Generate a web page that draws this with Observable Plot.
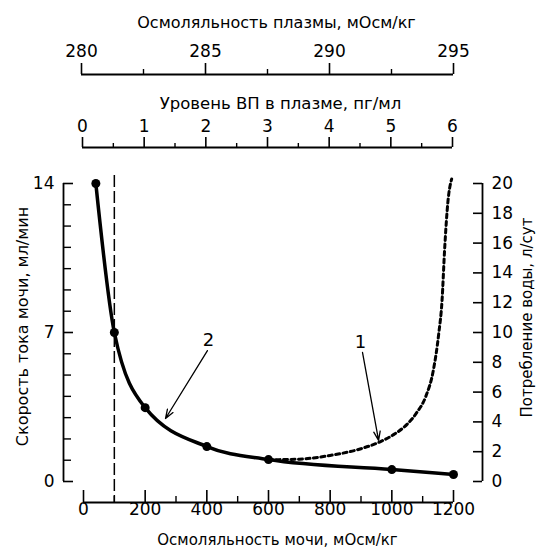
<!DOCTYPE html>
<html><head><meta charset="utf-8">
<script src="https://cdn.jsdelivr.net/npm/d3@7"></script>
<script src="https://cdn.jsdelivr.net/npm/@observablehq/plot@0.6"></script>
<style>body{margin:0;background:#fff} #chart svg{display:block}</style>
</head><body><div id="chart"></div>
<script>
// ---- data ----
const urineOsm = [40, 100, 200, 400, 600, 1000, 1200];
const urineFlow = [14, 7, 3.47, 1.64, 1.03, 0.56, 0.33];
const intakeOsm = [600, 700, 800, 900, 960, 1010, 1050, 1080, 1110, 1135, 1152, 1163, 1171, 1182, 1194];
const intakeVol = [1.46, 1.5, 1.75, 2.2, 2.65, 3.2, 3.85, 4.6, 5.7, 7.5, 9.9, 12.2, 15.5, 18.8, 20.3];
const thresholdOsm = [100];
const plasmaTicks = [280, 285, 290, 295];
const plasmaMinor = [282.5, 287.5, 292.5];
const adhTicks = [0, 1, 2, 3, 4, 5, 6];
const adhMinor = [0.5, 1.5, 2.5, 3.5, 4.5, 5.5];
const urineTicks = [0, 200, 400, 600, 800, 1000, 1200];
const urineMinor = [100, 300, 500, 700, 900, 1100];
const flowTicks = [0, 7, 14];
const flowMinor = [1, 2, 3, 4, 5, 6, 8, 9, 10, 11, 12, 13];
const waterTicks = [0, 2, 4, 6, 8, 10, 12, 14, 16, 18, 20];
const curveNames = ["1", "2"];
const nameOsm = [898, 405];
const nameFlow = [6.55, 6.62];
const arrowFromOsm = [905, 402];
const arrowFromFlow = [6.06, 6.15];
const arrowToOsm = [957, 266];
const arrowToFlow = [1.93, 2.96];
const titlePlasma = "Осмоляльность плазмы, мОсм/кг";
const titleAdh = "Уровень ВП в плазме, пг/мл";
const titleUrine = "Осмоляльность мочи, мОсм/кг";
const titleFlow = "Скорость тока мочи, мл/мин";
const titleWater = "Потребление воды, л/сут";

const flowMax = 14, waterMax = 20;
const waterToFlow = flowMax / waterMax;

const FONT = "DejaVu Sans";
const style = {fontFamily: FONT, fontSize: "16px", color: "black", background: "white", overflow: "visible"};
const W = 537;
const str = d => String(d);
const T = {lineAnchor: "middle"};

// ---- top axis: plasma osmolality ----
const plotA = Plot.plot({
  width: W, height: 88, marginTop: 63, marginBottom: 14, marginLeft: 81, marginRight: 84,
  style,
  x: {domain: [280, 295], axis: null},
  y: {domain: [0, 1], axis: null},
  marks: [
    Plot.ruleY([0], {strokeWidth: 1.8}),
    Plot.tickX(plasmaTicks, {x: d => d, strokeWidth: 1.6}),
    Plot.tickX(plasmaMinor, {x: d => d, insetTop: 6, strokeWidth: 1.4}),
    Plot.text(plasmaTicks, {...T, x: d => d, text: str, frameAnchor: "top", dy: -12, fontSize: 17}),
    Plot.text([titlePlasma], {...T, textAnchor: "middle", frameAnchor: "top", dx: 9, dy: -41, fontSize: 16})
  ]
});

// ---- top axis: ADH ----
const plotB = Plot.plot({
  width: W, height: 72, marginTop: 49, marginBottom: 13, marginLeft: 82, marginRight: 85,
  style,
  x: {domain: [0, 6], axis: null},
  y: {domain: [0, 1], axis: null},
  marks: [
    Plot.ruleY([0], {strokeWidth: 1.8}),
    Plot.tickX(adhTicks, {x: d => d, strokeWidth: 1.6}),
    Plot.tickX(adhMinor, {x: d => d, insetTop: 6, strokeWidth: 1.4}),
    Plot.text(adhTicks, {...T, x: d => d, text: str, frameAnchor: "top", dy: -11, fontSize: 17}),
    Plot.text([titleAdh], {...T, textAnchor: "middle", frameAnchor: "top", dx: 13, dy: -34, fontSize: 16.5})
  ]
});

// ---- main chart ----
const plotC = Plot.plot({
  width: W, height: 389, marginTop: 23, marginBottom: 68, marginLeft: 83, marginRight: 84,
  style,
  x: {domain: [0, 1200], axis: null},
  y: {domain: [0, flowMax], axis: null},
  marks: [
    // left axis
    Plot.ruleX([0], {dx: -20, strokeWidth: 1.8}),
    Plot.tickY(flowTicks, {y: d => d, insetLeft: -20, insetRight: 380, strokeWidth: 1.6}),
    Plot.tickY(flowMinor, {y: d => d, insetLeft: -20, insetRight: 382, strokeWidth: 1.4}),
    Plot.text(flowTicks, {...T, y: d => d, text: str, frameAnchor: "left", dx: -29, textAnchor: "end", fontSize: 17}),
    Plot.text([titleFlow], {...T, textAnchor: "middle", frameAnchor: "left", rotate: -90, dx: -61, dy: -6, fontSize: 16}),
    // right axis
    Plot.ruleX([1200], {dx: 29, strokeWidth: 1.8}),
    Plot.tickY(waterTicks, {y: d => d * waterToFlow, insetLeft: 390, insetRight: -29, strokeWidth: 1.6}),
    Plot.text(waterTicks, {...T, y: d => d * waterToFlow, text: str, frameAnchor: "right", dx: 38, textAnchor: "start", fontSize: 17}),
    Plot.text([titleWater], {...T, textAnchor: "middle", frameAnchor: "right", rotate: -90, dx: 74, dy: -15, fontSize: 15}),
    // bottom axis
    Plot.ruleY([0], {dy: 21, strokeWidth: 1.8}),
    Plot.tickX(urineTicks, {x: d => d, insetTop: 307, insetBottom: -21, strokeWidth: 1.6}),
    Plot.tickX(urineMinor, {x: d => d, insetTop: 313, insetBottom: -21, strokeWidth: 1.4}),
    Plot.text(urineTicks, {...T, x: d => d, text: str, frameAnchor: "bottom", dy: 28, fontSize: 17}),
    Plot.text([titleUrine], {...T, textAnchor: "middle", frameAnchor: "bottom", dx: 9, dy: 59, fontSize: 15}),
    // threshold line
    Plot.ruleX(thresholdOsm, {x: d => d, insetTop: -8, insetBottom: -22, strokeWidth: 1.5, strokeDasharray: "12,4"}),
    // curve 1 (water intake, dotted)
    Plot.line(intakeOsm, {x: intakeOsm, y: intakeVol.map(v => v * waterToFlow), curve: "monotone-x", strokeWidth: 3, strokeDasharray: "4,3.5"}),
    // curve 2 (urine flow)
    Plot.line(urineOsm, {x: urineOsm, y: urineFlow, curve: "monotone-x", strokeWidth: 3.5}),
    Plot.dot(urineOsm, {x: urineOsm, y: urineFlow, r: 4.5, fill: "black"}),
    // annotations
    Plot.arrow(curveNames, {x1: arrowFromOsm, y1: arrowFromFlow, x2: arrowToOsm, y2: arrowToFlow, strokeWidth: 1.3, headLength: 11, headAngle: 40}),
    Plot.text(curveNames, {...T, x: nameOsm, y: nameFlow, text: d => d, fontSize: 18})
  ]
});

const root = document.getElementById("chart");
root.append(plotA, plotB, plotC);
</script>
</body></html>
